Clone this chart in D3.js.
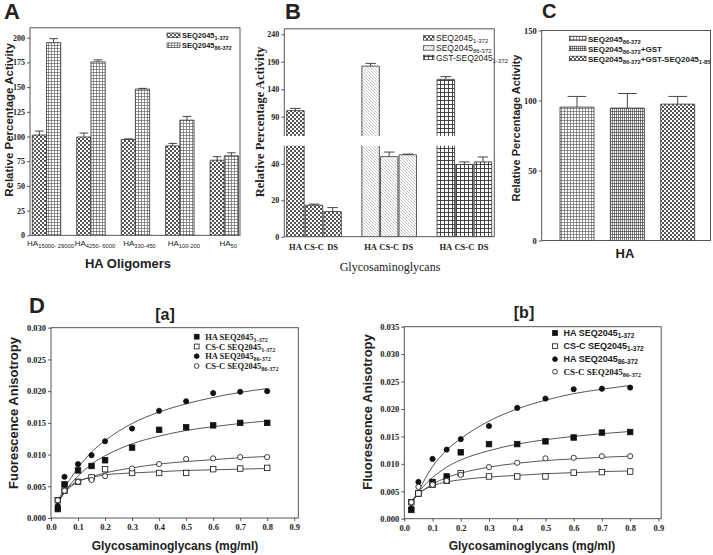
<!DOCTYPE html>
<html><head><meta charset="utf-8">
<script src="https://cdn.jsdelivr.net/npm/d3@7"></script>
<style>body{margin:0;background:#fff} svg{display:block}</style>
</head><body>
<svg id="c" width="713" height="555"></svg>
<script>
// ---------------- DATA ----------------
// Panel A
const aCategories = ["15000- 29000", "4250- 6000", "330-450", "100-200", "50"];
const aSeriesNames = ["1-372", "86-372"];
const aVals1 = [101.5, 99.5, 97, 90.5, 76];
const aErr1 = [4, 4, 0.6, 2.5, 3.6];
const aVals2 = [195, 175.5, 148, 116.5, 80.5];
const aErr2 = [4, 2, 0.7, 3.8, 3];
const aYTicks = [0, 25, 50, 75, 100, 125, 150, 175, 200];

// Panel B
const bGroups = ["1-372", "86-372", "GST 1-372"];
const bCats = ["HA", "CS-C", "DS"];
const bVals1 = [101, 17.3, 13.8];
const bErr1 = [4, 0.6, 2.2];
const bVals2 = [182, 44, 45];
const bErr2 = [5, 2.5, 0.4];
const bVals3 = [158, 39.7, 41.1];
const bErr3 = [5, 1.4, 2.7];
const bLowTicks = [0, 20, 40];
const bHighTicks = [90, 140, 190, 240];

// Panel C
const cSeries = ["86-372", "86-372+GST", "86-372+GST-1-85"];
const cVals = [95.3, 94.6, 97.4];
const cErr = [7.6, 10.4, 5.5];
const cYTicks = [0, 50, 100, 150];

// Panel D
const dX = [0.025, 0.05, 0.1, 0.15, 0.2, 0.3, 0.4, 0.5, 0.6, 0.7, 0.8];
const dFitX = [0.025, 0.05, 0.075, 0.1, 0.15, 0.2, 0.3, 0.4, 0.5, 0.6, 0.7, 0.8];
// [a]
const daHA1 = [0.0014, 0.0053, 0.0075, 0.0082, 0.0091, 0.0111, 0.0139, 0.0143, 0.0146, 0.0150, 0.0150];
const daCS1 = [0.0028, 0.0043, 0.0057, 0.0064, 0.0077, 0.0071, 0.0071, 0.0071, 0.0077, 0.0078, 0.0079];
const daHA86 = [0.0019, 0.0065, 0.0085, 0.0099, 0.0121, 0.0141, 0.0169, 0.0184, 0.0197, 0.0199, 0.0200];
const daCS86 = [0.0028, 0.0043, 0.0057, 0.0060, 0.0066, 0.0078, 0.0085, 0.0093, 0.0094, 0.0096, 0.0096];
const daFitHA1 = [0.0023, 0.0040, 0.0055, 0.0066, 0.0085, 0.0098, 0.0117, 0.0129, 0.0138, 0.0144, 0.0149, 0.0153];
const daFitCS1 = [0.0025, 0.0042, 0.0052, 0.0058, 0.0064, 0.0068, 0.0071, 0.0073, 0.0075, 0.0076, 0.0077, 0.0078];
const daFitHA86 = [0.0026, 0.0047, 0.0064, 0.0079, 0.0104, 0.0122, 0.0149, 0.0167, 0.0180, 0.0190, 0.0198, 0.0204];
const daFitCS86 = [0.0025, 0.0040, 0.0050, 0.0057, 0.0065, 0.0071, 0.0079, 0.0085, 0.0089, 0.0092, 0.0095, 0.0097];
// [b]
const dbHA1 = [0.0016, 0.0046, 0.0067, 0.0077, 0.0121, 0.0136, 0.0136, 0.0141, 0.0148, 0.0157, 0.0158];
const dbCS1 = [0.0030, 0.0046, 0.0062, 0.0069, 0.0083, 0.0077, 0.0077, 0.0077, 0.0084, 0.0085, 0.0086];
const dbHA86 = [0.0019, 0.0067, 0.0109, 0.0126, 0.0145, 0.0169, 0.0202, 0.0219, 0.0236, 0.0237, 0.0239];
const dbCS86 = [0.0030, 0.0058, 0.0062, 0.0069, 0.0080, 0.0094, 0.0102, 0.0110, 0.0111, 0.0114, 0.0114];
const dbFitHA1 = [0.0030, 0.0048, 0.0063, 0.0075, 0.0094, 0.0107, 0.0124, 0.0136, 0.0144, 0.0150, 0.0155, 0.0159];
const dbFitCS1 = [0.0030, 0.0045, 0.0054, 0.0060, 0.0067, 0.0071, 0.0076, 0.0079, 0.0082, 0.0084, 0.0086, 0.0087];
const dbFitHA86 = [0.0030, 0.0050, 0.0074, 0.0095, 0.0125, 0.0146, 0.0178, 0.0200, 0.0216, 0.0228, 0.0236, 0.0243];
const dbFitCS86 = [0.0030, 0.0045, 0.0055, 0.0063, 0.0075, 0.0083, 0.0094, 0.0101, 0.0106, 0.0109, 0.0112, 0.0114];
const dYTicksA = [0, 0.005, 0.010, 0.015, 0.020, 0.025, 0.030];
const dYTicksB = [0, 0.005, 0.010, 0.015, 0.020, 0.025, 0.030, 0.035];
const dXTicks = [0, 0.1, 0.2, 0.3, 0.4, 0.5, 0.6, 0.7, 0.8, 0.9];

// ---------------- HELPERS ----------------
const SANS = "'Liberation Sans', Arial, sans-serif";
const SERIF = "'Liberation Serif', 'Times New Roman', serif";
const NARROW = "'Liberation Sans Narrow', 'Liberation Sans', Arial, sans-serif";
const INK = "#222";
const svg = d3.select("#c");
const defs = svg.append("defs");

function pat(id, w, h, draw) {
  const p = defs.append("pattern").attr("id", id).attr("patternUnits", "userSpaceOnUse")
    .attr("width", w).attr("height", h);
  p.append("rect").attr("width", w).attr("height", h).attr("fill", "#fff");
  draw(p);
}
pat("check", 4, 4, p => {
  p.append("rect").attr("width", 2).attr("height", 2).attr("fill", "#555");
  p.append("rect").attr("x", 2).attr("y", 2).attr("width", 2).attr("height", 2).attr("fill", "#555");
});
pat("grid", 3, 3, p => p.append("path").attr("d", "M0,0.5H3M0.5,0V3").attr("stroke", "#666").attr("stroke-width", 0.7));
pat("diag", 3, 3, p => p.append("path").attr("d", "M0,0L3,3M-1,2L1,4M2,-1L4,1").attr("stroke", "#aaa").attr("stroke-width", 0.7));
pat("grid2", 4, 4, p => p.append("path").attr("d", "M0,0.5H4M0.5,0V4").attr("stroke", "#333").attr("stroke-width", 0.9));
pat("vgrid", 2, 3, p => p.append("path").attr("d", "M0,0.5H2M0.5,0V3").attr("stroke", "#444").attr("stroke-width", 0.7));

function rich(g, x, y, parts, o) {
  const t = g.append("text").attr("x", x).attr("y", y)
    .attr("font-family", o.font).attr("font-size", o.size)
    .attr("font-weight", o.weight || "bold").attr("fill", INK)
    .attr("text-anchor", o.anchor || "start");
  let shifted = 0;
  parts.forEach(([s, sub]) => {
    const ts = t.append("tspan").text(s);
    const target = sub ? o.shift : 0;
    if (target !== shifted) { ts.attr("dy", target - shifted); shifted = target; }
    if (sub) ts.attr("font-size", o.sub);
  });
  return t;
}
function plainText(x, y, s, font, size, opts = {}) {
  const t = svg.append("text").attr("x", x).attr("y", y).text(s)
    .attr("font-family", font).attr("font-size", size)
    .attr("font-weight", opts.weight || "bold").attr("fill", INK)
    .attr("text-anchor", opts.anchor || "middle");
  if (opts.rotate) t.attr("transform", `rotate(-90,${x},${y})`);
  return t;
}
function styleAxis(g, font, size) {
  g.select(".domain").remove();
  g.selectAll("line").attr("stroke", "#333").attr("stroke-width", 0.8);
  g.selectAll("text").attr("font-family", font).attr("font-size", size)
    .attr("font-weight", "bold").attr("fill", INK);
}
function frame(x0, y0, x1, y1) {
  svg.append("rect").attr("x", x0).attr("y", y0).attr("width", x1 - x0).attr("height", y1 - y0)
    .attr("fill", "none").attr("stroke", "#444").attr("stroke-width", 0.9);
}
function bar(x, w, yTop, yBot, fill, drawTop = true) {
  svg.append("rect").attr("x", x).attr("y", yTop).attr("width", w).attr("height", yBot - yTop)
    .attr("fill", `url(#${fill})`);
  const d = drawTop ? `M${x},${yBot}V${yTop}H${x + w}V${yBot}` : `M${x},${yBot}V${yTop}M${x + w},${yTop}V${yBot}`;
  svg.append("path").attr("d", d).attr("fill", "none").attr("stroke", "#333").attr("stroke-width", 0.8);
}
function errBar(cx, yTop, yErr, cap) {
  svg.append("path").attr("d", `M${cx},${yTop}V${yErr}M${cx - cap / 2},${yErr}H${cx + cap / 2}`)
    .attr("fill", "none").attr("stroke", "#333").attr("stroke-width", 0.9);
}
function swatch(x, y, w, h, fill) {
  svg.append("rect").attr("x", x).attr("y", y).attr("width", w).attr("height", h)
    .attr("fill", `url(#${fill})`).attr("stroke", "#333").attr("stroke-width", 0.7);
}

// ---------------- PANEL A ----------------
const aX = d3.scaleBand().domain(aCategories).range([32.3, 238.5]).paddingInner(0.36);
const aXs = d3.scaleBand().domain(aSeriesNames).range([0, aX.bandwidth()]);
const aY = d3.scaleLinear().domain([0, 210]).range([235.3, 27.8]);
const aFills = ["check", "grid"];
[[aVals1, aErr1], [aVals2, aErr2]].forEach(([vals, errs], s) => {
  aCategories.forEach((c, i) => {
    const x = aX(c) + aXs(aSeriesNames[s]);
    const w = aXs.bandwidth();
    bar(x, w, aY(vals[i]), aY(0), aFills[s]);
    errBar(x + w / 2, aY(vals[i]), aY(vals[i] + errs[i]), w * 0.6);
  });
});
frame(30, aY(210), 240, aY(0));
styleAxis(svg.append("g").attr("transform", "translate(30,0)")
  .call(d3.axisLeft(aY).tickValues(aYTicks).tickSize(3).tickPadding(2)), SERIF, 8);
aCategories.forEach(c => {
  rich(svg, aX(c) + aX.bandwidth() / 2 + 4, 246, [["HA", 0], [c, 1]],
    { font: SANS, size: 8, sub: 5.8, shift: 2, weight: "normal", anchor: "middle" });
});
plainText(128, 268, "HA Oligomers", SANS, 13);
plainText(12.5, 120, "Relative Percentage Activity", SANS, 11.5, { rotate: true });
plainText(4, 19, "A", SANS, 22, { anchor: "start" });
[["1-372", "check", 35.3], ["86-372", "grid", 45.3]].forEach(([sub, f, y]) => {
  swatch(167, y - 2.3, 13, 4.5, f);
  rich(svg, 182, y + 2.5, [["SEQ2045", 0], [sub, 1]], { font: SANS, size: 7.5, sub: 5.5, shift: 2 });
});

// ---------------- PANEL B ----------------
const bX = d3.scaleBand().domain(bGroups).range([286.7, 491.7]).paddingInner(0.273);
const bXs = d3.scaleBand().domain(bCats).range([0, bX.bandwidth()]).paddingInner(0.06);
const bYL = d3.scaleLinear().domain([0, 50]).range([236.7, 145.7]);
const bYU = d3.scaleLinear().domain([55, 250]).range([135.9, 28.8]);
const bFills = ["check", "diag", "grid2"];
[[bVals1, bErr1], [bVals2, bErr2], [bVals3, bErr3]].forEach(([vals, errs], g) => {
  bCats.forEach((c, i) => {
    const x = bX(bGroups[g]) + bXs(c);
    const w = bXs.bandwidth();
    const v = vals[i];
    if (v > 50) {
      bar(x, w, bYL(50), bYL(0), bFills[g], false);
      bar(x, w, bYU(v), bYU(55), bFills[g], true);
      errBar(x + w / 2, bYU(v), bYU(v + errs[i]), w * 0.6);
    } else {
      bar(x, w, bYL(v), bYL(0), bFills[g]);
      errBar(x + w / 2, bYL(v), bYL(v + errs[i]), w * 0.6);
    }
  });
});
// frame with broken left axis
svg.append("path").attr("d", `M284.3,${bYU(55)}V${bYU(250)}H494.3V${bYL(0)}H284.3V${bYL(50)}`)
  .attr("fill", "none").attr("stroke", "#444").attr("stroke-width", 0.9);
styleAxis(svg.append("g").attr("transform", "translate(284.3,0)")
  .call(d3.axisLeft(bYL).tickValues(bLowTicks).tickSize(3).tickPadding(2)), SERIF, 8);
styleAxis(svg.append("g").attr("transform", "translate(284.3,0)")
  .call(d3.axisLeft(bYU).tickValues(bHighTicks).tickSize(3).tickPadding(2)), SERIF, 8);
bGroups.forEach(g => bCats.forEach(c => {
  plainText(bX(g) + bXs(c) + bXs.bandwidth() / 2, 250, c, SERIF, 8.5);
}));
plainText(390, 271, "Glycosaminoglycans", SERIF, 12, { weight: "normal" });
plainText(264, 122, "Relative Percentage Activity", SERIF, 12.5, { rotate: true });
plainText(285, 19, "B", SANS, 22, { anchor: "start" });
[["SEQ2045", "1-372", "check", 38], ["SEQ2045", "86-372", "diag", 48], ["GST-SEQ2045", "1-372", "grid2", 57.5]]
  .forEach(([m, sub, f, y]) => {
    swatch(423.5, y - 2.3, 10.5, 4.5, f);
    rich(svg, 436, y + 3, [[m, 0], [sub, 1]], { font: NARROW, size: 8.5, sub: 6, shift: 2, weight: "normal" });
  });

// ---------------- PANEL C ----------------
const cX = d3.scaleBand().domain(cSeries).range([560, 694.7]).paddingInner(0.325);
const cY = d3.scaleLinear().domain([0, 150]).range([240.5, 30.5]);
const cFills = ["grid", "vgrid", "check"];
cSeries.forEach((s, i) => {
  const x = cX(s), w = cX.bandwidth();
  bar(x, w, cY(cVals[i]), cY(0), cFills[i]);
  errBar(x + w / 2, cY(cVals[i]), cY(cVals[i] + cErr[i]), w * 0.55);
});
frame(541.7, cY(150), 710.5, cY(0));
styleAxis(svg.append("g").attr("transform", "translate(541.7,0)")
  .call(d3.axisLeft(cY).tickValues(cYTicks).tickSize(3).tickPadding(2)), SERIF, 8.5);
plainText(625, 258, "HA", SANS, 13);
plainText(520, 128, "Relative Percentage Activity", SANS, 11, { rotate: true });
plainText(542, 18, "C", SANS, 20, { anchor: "start" });
[[[["SEQ2045", 0], ["86-372", 1]], "grid", 38.5],
 [[["SEQ2045", 0], ["86-372", 1], ["+GST", 0]], "vgrid", 48.5],
 [[["SEQ2045", 0], ["86-372", 1], ["+GST-SEQ2045", 0], ["1-85", 1]], "check", 58.5]]
  .forEach(([parts, f, y]) => {
    swatch(569.5, y - 2.3, 16.5, 4.5, f);
    rich(svg, 588, y + 3, parts, { font: SANS, size: 8, sub: 5.8, shift: 2 });
  });

// ---------------- PANEL D ----------------
function marker(g, x, y, type, size) {
  if (type === "fsq" || type === "osq") {
    g.append("rect").attr("x", x - size / 2).attr("y", y - size / 2).attr("width", size).attr("height", size)
      .attr("fill", type === "fsq" ? "#111" : "#fff").attr("stroke", "#111").attr("stroke-width", 0.8);
  } else {
    g.append("circle").attr("cx", x).attr("cy", y).attr("r", size / 2)
      .attr("fill", type === "fci" ? "#111" : "#fff").attr("stroke", "#111").attr("stroke-width", 0.8);
  }
}
function dPanel(cfg) {
  const x = d3.scaleLinear().domain([0, cfg.xMax]).range([cfg.x0, cfg.x1]);
  const y = d3.scaleLinear().domain([0, cfg.yMax]).range([cfg.y0, cfg.y1]);
  const g = svg.append("g");
  const line = d3.line().x((d, i) => x(dFitX[i])).y(d => y(d)).curve(d3.curveMonotoneX);
  cfg.series.forEach(s => {
    g.append("path").attr("d", line(s.fit)).attr("fill", "none").attr("stroke", "#444").attr("stroke-width", 0.9);
  });
  cfg.series.forEach(s => {
    s.vals.forEach((v, i) => marker(g, x(dX[i]), y(v), s.type, s.type.endsWith("sq") ? 5.5 : 5.2));
  });
  frame(cfg.x0, cfg.y1, cfg.x1, cfg.y0);
  styleAxis(svg.append("g").attr("transform", `translate(${cfg.x0},0)`)
    .call(d3.axisLeft(y).tickValues(cfg.yTicks).tickFormat(d3.format(".3f")).tickSize(3).tickPadding(2)), SERIF, 8.5);
  styleAxis(svg.append("g").attr("transform", `translate(0,${cfg.y0})`)
    .call(d3.axisBottom(x).tickValues(dXTicks).tickFormat(d3.format(".1f")).tickSize(3).tickPadding(3)), SERIF, 8.5);
  cfg.series.forEach((s, k) => {
    marker(svg, cfg.legX, cfg.legY[k], s.type, 4.8);
    rich(svg, cfg.legX + 8.5, cfg.legY[k] + 3, [[s.name, 0], [s.sub, 1]],
      { font: s.font || cfg.legFont, size: cfg.legSize, sub: cfg.legSize * 0.72, shift: 2 });
  });
}
dPanel({
  x0: 51, x1: 298.3, y0: 518, y1: 327.7, xMax: 0.915, yMax: 0.030, yTicks: dYTicksA,
  legX: 196.7, legY: [336.7, 346.5, 356.2, 366], legFont: SERIF, legSize: 8.5,
  series: [
    { name: "HA SEQ2045", sub: "1-372", type: "fsq", vals: daHA1, fit: daFitHA1 },
    { name: "CS-C SEQ2045", sub: "1-372", type: "osq", vals: daCS1, fit: daFitCS1 },
    { name: "HA SEQ2045", sub: "86-372", type: "fci", vals: daHA86, fit: daFitHA86 },
    { name: "CS-C SEQ2045", sub: "86-372", type: "oci", vals: daCS86, fit: daFitCS86 }
  ]
});
dPanel({
  x0: 404.3, x1: 661.2, y0: 518.7, y1: 326.7, xMax: 0.91, yMax: 0.035, yTicks: dYTicksB,
  legX: 555, legY: [333, 346.2, 359.2, 371.7], legFont: SANS, legSize: 9,
  series: [
    { name: "HA SEQ2045", sub: "1-372", type: "fsq", vals: dbHA1, fit: dbFitHA1 },
    { name: "CS-C SEQ2045", sub: "1-372", type: "osq", vals: dbCS1, fit: dbFitCS1 },
    { name: "HA SEQ2045", sub: "86-372", type: "fci", vals: dbHA86, fit: dbFitHA86 },
    { name: "CS-C SEQ2045", sub: "86-372", type: "oci", vals: dbCS86, fit: dbFitCS86, font: SERIF }
  ]
});
plainText(29, 313, "D", SANS, 22, { anchor: "start" });
plainText(165, 320, "[a]", SANS, 16);
plainText(524, 318, "[b]", SANS, 16);
plainText(18, 413, "Fuorescence Anisotropy", SANS, 13, { rotate: true });
plainText(371.5, 412, "Fluorescence Anisotropy", SANS, 13, { rotate: true });
plainText(175, 550, "Glycosaminoglycans (mg/ml)", SANS, 12);
plainText(532, 550, "Glycosaminoglycans (mg/ml)", SANS, 12);
</script>
</body></html>
